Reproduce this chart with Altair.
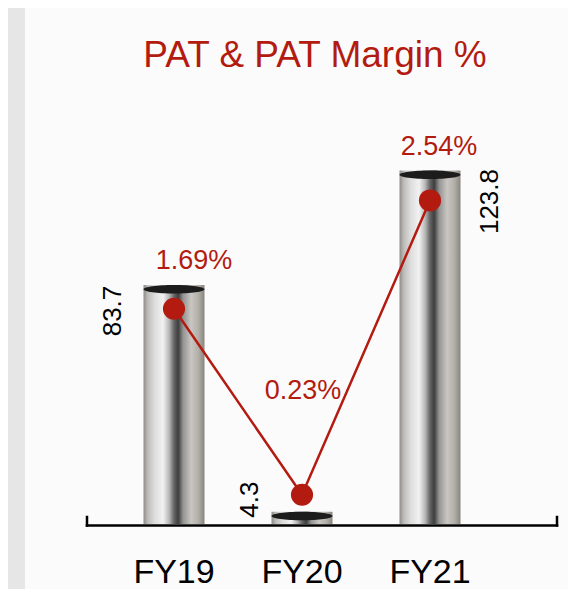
import altair as alt
import pandas as pd

# ---- data ----
years = ["FY19", "FY20", "FY21"]
pat = [83.7, 4.3, 123.8]
margin = [1.69, 0.23, 2.54]
title_text = "PAT & PAT Margin %"

df = pd.DataFrame({"year": years, "pat": pat, "margin": margin})
one = pd.DataFrame({"k": [0]})

# ---- style ----
FONT = "Liberation Sans"
RED = "#b31b10"

# per-label offsets (style only)
margin_lbl_off = {"FY19": (20, -24), "FY20": (1, -121), "FY21": (9, -24)}
value_lbl_off = {"FY19": (-26, -61), "FY20": (12, -52), "FY21": (-31, 60)}

x_enc = alt.X(
    "year:N",
    sort=years,
    scale=alt.Scale(paddingInner=0.5234, paddingOuter=0.2617),
    axis=alt.Axis(
        title=None, labelAngle=0, labelFontSize=34, labelFont=FONT,
        labelColor="#000000", ticks=False, tickSize=0, domain=False,
        grid=False, labelPadding=31, zindex=3,
    ),
)
y_pat = alt.Y("pat:Q", scale=alt.Scale(domain=[0, 145], nice=False, zero=True), axis=None)
y_mar = alt.Y("margin:Q", scale=alt.Scale(domain=[0, 3.25], nice=False, zero=True), axis=None)

stops = [
    (0.00, "#8e8b88"), (0.07, "#bebcba"), (0.18, "#dcdcdc"), (0.32, "#f2f2f2"),
    (0.42, "#b8b8b8"), (0.50, "#646464"), (0.57, "#3e3e3e"), (0.65, "#949494"),
    (0.78, "#cac6c2"), (0.90, "#b2aea8"), (1.00, "#88847e"),
]
metal = alt.Gradient(
    gradient="linear", x1=0, x2=1, y1=0, y2=0,
    stops=[alt.GradientStop(offset=o, color=c) for o, c in stops],
)

base = alt.Chart(df)
single = alt.Chart(one)

panel = single.mark_rect(color="#fbfbfb").encode(
    x=alt.value(-85), x2=alt.value(458), y=alt.value(-102), y2=alt.value(479)
)

bars = base.mark_bar(color=metal).encode(x=x_enc, y=y_pat)

cap_shape = "M-1,0.14A1,0.14,0,1,1,1,0.14A1,0.14,0,1,1,-1,0.14Z"
caps = base.mark_point(
    shape=cap_shape, size=3721, filled=True, color="#1c1c1c", opacity=1
).encode(x=x_enc, y=y_pat)

line = base.mark_line(color=RED, strokeWidth=2.5).encode(x=x_enc, y=y_mar)
dots = base.mark_circle(size=490, color=RED, opacity=1).encode(x=x_enc, y=y_mar)

texts = []
for yr in years:
    dx, dy = margin_lbl_off[yr]
    texts.append(
        base.transform_filter(alt.datum.year == yr)
        .transform_calculate(lbl="format(datum.margin, '.2f') + '%'")
        .mark_text(font=FONT, fontSize=27, color=RED, align="center",
                   baseline="middle", dx=dx, dy=dy)
        .encode(x=x_enc, y=y_pat, text="lbl:N")
    )
    vdx, vdy = value_lbl_off[yr]
    texts.append(
        base.transform_filter(alt.datum.year == yr)
        .transform_calculate(vl="format(datum.pat, '.1f')")
        .mark_text(font=FONT, fontSize=26, color="#000000", align="center",
                   baseline="middle", angle=270, dx=vdx, dy=vdy)
        .encode(x=x_enc, y=y_pat, text="vl:N")
    )

title = single.mark_text(
    text=title_text, font=FONT, fontSize=37, color=RED,
    align="center", baseline="alphabetic",
).encode(x=alt.value(205), y=alt.value(-43))

axis_line = single.mark_rule(color="#000000", strokeWidth=2.5, strokeCap="square").encode(
    x=alt.value(-23), x2=alt.value(447), y=alt.value(415.5)
)
tick_l = single.mark_rule(color="#000000", strokeWidth=2.5, strokeCap="square").encode(
    x=alt.value(-23), y=alt.value(407), y2=alt.value(415.5)
)
tick_r = single.mark_rule(color="#000000", strokeWidth=2.5, strokeCap="square").encode(
    x=alt.value(447), y=alt.value(407), y2=alt.value(415.5)
)

chart = (
    alt.layer(panel, bars, caps, line, dots, *texts, title, axis_line, tick_l, tick_r)
    .resolve_scale(y="independent")
    .properties(
        width=384,
        height=414,
        autosize=alt.AutoSizeParams(type="none"),
        padding={"left": 102, "top": 102, "right": 74, "bottom": 65},
        background="#e6e6e6",
    )
    .configure_view(stroke=None)
)

chart.save("out.html", embed_options={"renderer": "svg", "actions": False})
